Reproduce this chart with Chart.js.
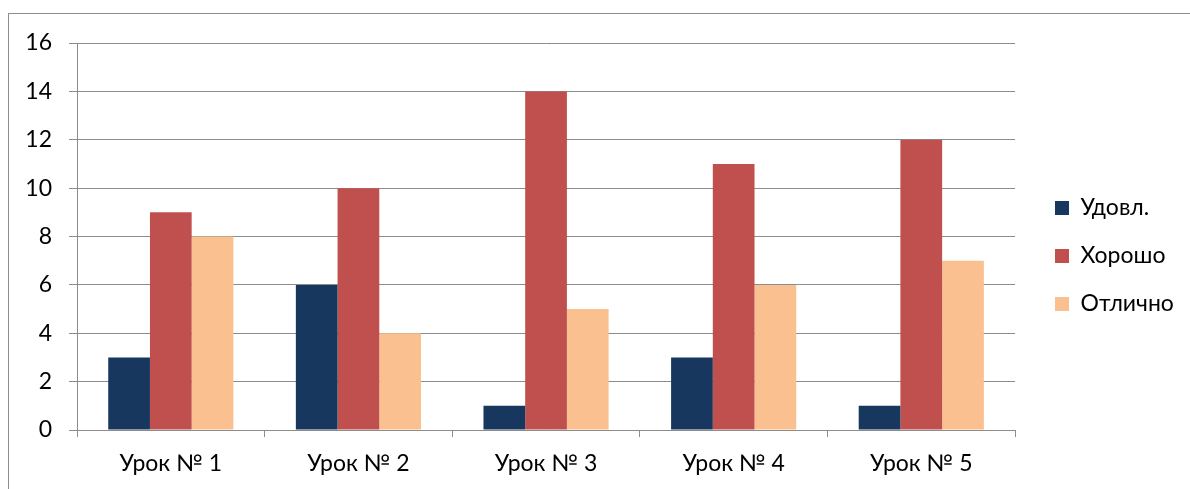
<!DOCTYPE html>
<html lang="ru">
  <head>
    <meta charset="UTF-8" />
    <title>Уроки</title>
    <script src="https://cdn.jsdelivr.net/npm/chart.js"></script>
    <style>
      body {
        margin: 0;
        background: #fff;
        overflow: hidden;
      }
      #frame {
        position: absolute;
        left: 8px;
        top: 13px;
        width: 1300px;
        height: 600px;
        border: 1px solid #8c8c8c;
      }
      #wrap {
        position: absolute;
        left: 0;
        top: 0;
        width: 1190px;
        height: 489px;
      }
    </style>
  </head>
  <body>
    <div id="frame"></div>
    <div id="wrap"><canvas id="chart"></canvas></div>

    <script>
      const categories = ["Урок № 1", "Урок № 2", "Урок № 3", "Урок № 4", "Урок № 5"];
      const udovl = [3, 6, 1, 3, 1];
      const khorosho = [9, 10, 14, 11, 12];
      const otlichno = [8, 4, 5, 6, 7];
      const yTicks = [0, 2, 4, 6, 8, 10, 12, 14, 16];

      const font = { family: "Lato, 'Open Sans', sans-serif", size: 23 };
      const gridColor = "#8c8c8c";

      // move legend box to where the items sit in the picture
      const legendShift = {
        id: "legendShift",
        afterLayout(chart) {
          const lg = chart.legend;
          const dx = 1057 - 27 - lg.left;
          const dy = -10;
          lg.left += dx;
          lg.right += dx;
          lg.top += dy;
          lg.bottom += dy;
        },
      };

      new Chart(document.getElementById("chart"), {
        type: "bar",
        data: {
          labels: categories,
          datasets: [
            { label: "Удовл.", data: udovl, backgroundColor: "#17375e" },
            { label: "Хорошо", data: khorosho, backgroundColor: "#c0504d" },
            { label: "Отлично", data: otlichno, backgroundColor: "#fac090" },
          ],
        },
        options: {
          responsive: true,
          maintainAspectRatio: false,
          animation: false,
          layout: { padding: { top: 43, right: 21, bottom: 0, left: 0 } },
          datasets: {
            bar: { barPercentage: 1, categoryPercentage: 0.667 },
          },
          plugins: {
            tooltip: { enabled: false },
            legend: {
              position: "right",
              labels: {
                boxWidth: 14,
                boxHeight: 14,
                padding: 25,
                color: "#000",
                font: font,
              },
            },
          },
          scales: {
            x: {
              grid: {
                drawOnChartArea: false,
                drawTicks: true,
                tickLength: 7,
                color: gridColor,
              },
              border: { color: gridColor },
              ticks: { color: "#000", font: font, padding: 13 },
              afterFit(scale) {
                scale.height = 59;
              },
            },
            y: {
              min: 0,
              max: 16,
              afterBuildTicks(scale) {
                scale.ticks = yTicks.map((v) => ({ value: v }));
              },
              grid: { color: gridColor, tickLength: 8 },
              border: { color: gridColor },
              ticks: { color: "#000", font: font, padding: 17 },
              afterFit(scale) {
                scale.width = 77;
              },
            },
          },
        },
        plugins: [legendShift],
      });
    </script>
  </body>
</html>
